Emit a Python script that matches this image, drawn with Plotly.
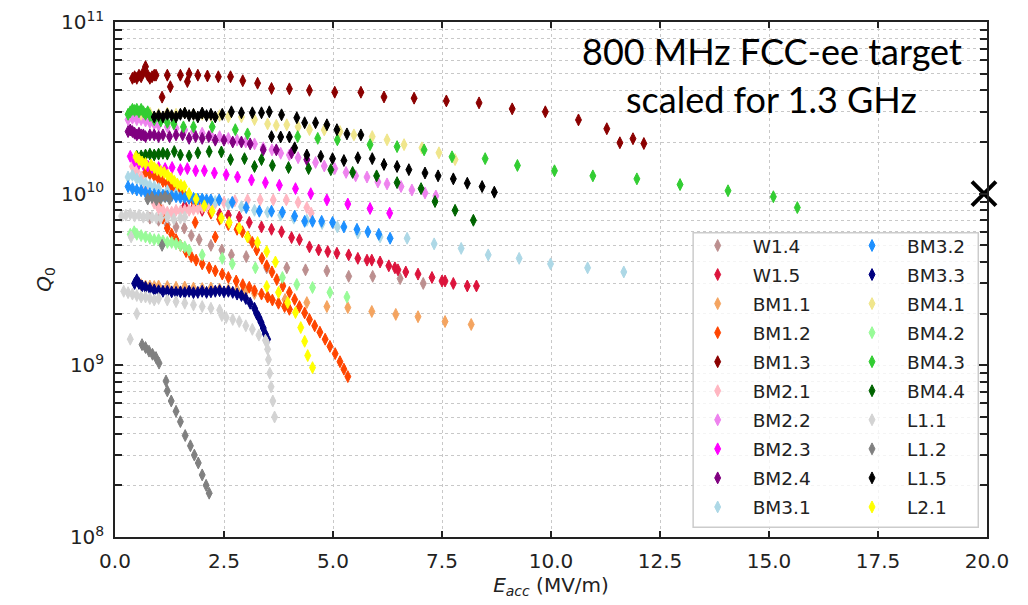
import plotly.graph_objects as go

# cavity names, one per series, in legend order
names = ['W1.4', 'W1.5', 'BM1.1', 'BM1.2', 'BM1.3', 'BM2.1', 'BM2.2', 'BM2.3', 'BM2.4', 'BM3.1',
         'BM3.2', 'BM3.3', 'BM4.1', 'BM4.2', 'BM4.3', 'BM4.4', 'L1.1', 'L1.2', 'L1.5', 'L2.1']
colors = ['#BC8F8F', '#DC143C', '#F4A460', '#FF4500', '#8B0000', '#FFB6C1', '#EE82EE', '#FF00FF', '#800080', '#ADD8E6',
          '#1E90FF', '#000080', '#F0E68C', '#98FB98', '#32CD32', '#006400', '#D3D3D3', '#808080', '#000000', '#FFFF00']

# Eacc (MV/m) and Q0
w14_e = [0.8, 1.0, 1.2, 1.4, 1.59, 1.75, 1.93, 2.2, 2.45, 2.67, 3.01, 3.48, 3.94, 4.37, 4.86, 5.36, 5.91, 6.54, 7.07]
w14_q = [0.72e10, 0.7e10, 0.66e10, 0.64e10, 0.63e10, 0.57e10, 0.54e10, 0.5e10, 0.47e10, 0.44e10, 0.43e10, 0.37e10,
         0.37e10, 0.36e10, 0.355e10, 0.33e10, 0.33e10, 0.32e10, 0.30e10]

w15_e = [1.6, 1.8, 2.0, 2.2, 2.4, 2.6, 2.85, 3.08, 3.36, 3.59, 3.82, 4.05, 4.23, 4.46, 4.67, 4.88, 5.09, 5.36, 5.57,
         5.78, 5.89, 6.08, 6.28, 6.42, 6.49, 6.67, 6.95, 7.27, 7.5, 7.57, 7.76, 8.08, 8.29]
w15_q = [0.85e10, 0.83e10, 0.8e10, 0.78e10, 0.76e10, 0.75e10, 0.73e10, 0.68e10, 0.64e10, 0.62e10, 0.60e10, 0.555e10,
         0.54e10, 0.49e10, 0.47e10, 0.46e10, 0.45e10, 0.44e10, 0.42e10, 0.41e10, 0.41e10, 0.40e10, 0.38e10, 0.37e10,
         0.36e10, 0.35e10, 0.34e10, 0.325e10, 0.31e10, 0.31e10, 0.30e10, 0.29e10, 0.29e10]

bm11_e = [0.6, 0.7, 0.8, 0.9, 1.0, 1.2, 1.4, 1.6, 1.8, 2.0, 2.2, 2.4, 2.6, 2.8, 3.0, 3.2, 3.5, 3.9, 4.4, 4.86, 5.34,
          5.89, 6.44, 6.95, 7.57, 8.17]
bm11_q = [2.95e9, 2.9e9, 2.9e9, 2.88e9, 2.9e9, 2.88e9, 2.85e9, 2.86e9, 2.82e9, 2.8e9, 2.82e9, 2.78e9, 2.76e9, 2.75e9,
          2.72e9, 2.62e9, 2.5e9, 2.42e9, 2.32e9, 2.2e9, 2.17e9, 2.06e9, 1.98e9, 1.92e9, 1.8e9, 1.73e9]

bm12_e = [0.7, 0.8, 0.9, 1.0, 1.1, 1.2, 1.3, 1.4, 1.5, 1.6, 1.7, 1.8, 1.9, 2.0, 2.2, 2.4, 2.6, 2.8, 2.92, 3.05, 3.15,
          3.25, 3.37, 3.48, 3.6, 3.71, 3.85, 4.0, 4.12, 4.23, 4.35, 4.46, 4.58, 4.70, 4.82, 4.93, 5.05, 5.16, 5.25, 5.34,
          0.9, 1.0, 1.1, 1.2, 1.3, 1.4, 1.5, 1.63, 1.75, 1.86, 2.0, 2.16, 2.3, 2.46, 2.6, 2.78, 2.93, 3.08, 3.2, 3.36,
          3.5, 3.61, 3.75, 3.89, 4.0, 1.84, 2.3]
bm12_q = [1.33e10, 1.3e10, 1.27e10, 1.22e10, 1.18e10, 1.14e10, 1.1e10, 1.06e10, 1.02e10, 0.98e10, 0.94e10, 0.9e10,
          0.86e10, 0.83e10, 0.77e10, 0.71e10, 0.66e10, 0.62e10, 0.6e10, 0.56e10, 0.52e10, 0.47e10, 0.42e10, 0.38e10,
          0.35e10, 3.16e9, 2.9e9, 2.66e9, 2.42e9, 2.2e9, 2.02e9, 1.85e9, 1.7e9, 1.56e9, 1.42e9, 1.29e9, 1.17e9, 1.05e9,
          0.95e9, 0.86e9,
          0.95e10, 0.85e10, 0.72e10, 0.63e10, 0.58e10, 0.54e10, 0.5e10, 0.46e10, 0.43e10, 0.41e10, 0.39e10, 0.37e10,
          0.355e10, 0.34e10, 0.325e10, 0.31e10, 0.295e10, 2.85e9, 2.72e9, 2.6e9, 2.5e9, 2.4e9, 2.3e9, 2.2e9, 2.12e9,
          0.68e10, 0.56e10]

bm13_e = [0.40, 0.45, 0.50, 0.55, 0.60, 0.65, 0.70, 0.75, 0.80, 0.85, 0.90, 0.94, 1.08, 1.2, 1.27, 1.5, 1.66, 1.7, 1.9,
          2.12, 2.37, 2.65, 2.93, 3.27, 3.59, 4.0, 4.46, 5.04, 5.64, 6.17, 6.86, 7.6, 8.35, 9.11, 9.87, 10.63, 11.28,
          11.58, 11.88, 12.13]
bm13_q = [4.7e10, 4.8e10, 4.7e10, 4.9e10, 4.8e10, 5.1e10, 5.5e10, 4.9e10, 4.7e10, 4.8e10, 4.9e10, 4.9e10, 3.65e10,
          4.9e10, 4.2e10, 4.9e10, 4.5e10, 5.0e10, 4.9e10, 4.85e10, 4.8e10, 4.8e10, 4.55e10, 4.4e10, 4.1e10, 4.08e10,
          4.0e10, 3.9e10, 3.9e10, 3.66e10, 3.6e10, 3.47e10, 3.38e10, 3.12e10, 3.0e10, 2.69e10, 2.39e10, 1.98e10,
          2.09e10, 1.96e10]

bm21_e = [0.4, 0.5, 0.6, 0.7, 0.8, 0.9, 1.0, 1.1, 1.2, 1.3, 1.4, 1.5, 1.6, 1.7, 1.8, 1.9, 2.0, 2.1, 2.2, 2.3, 2.5, 2.75,
          3.04, 3.33, 3.63, 3.93, 4.2, 4.4, 4.5]
bm21_q = [1.44e10, 1.35e10, 1.25e10, 1.1e10, 0.98e10, 0.88e10, 0.82e10, 0.8e10, 0.78e10, 0.78e10, 0.8e10, 0.79e10,
          0.8e10, 0.8e10, 0.81e10, 0.82e10, 0.83e10, 0.85e10, 0.86e10, 0.88e10, 0.89e10, 0.91e10, 0.92e10, 0.92e10,
          0.92e10, 0.92e10, 0.89e10, 0.83e10, 0.77e10]

bm22_e = [0.3, 0.4, 0.5, 0.6, 0.7, 0.8, 0.9, 1.0, 1.2, 1.4, 1.6, 1.8, 2.0, 2.2, 2.4, 2.6, 2.8, 3.0, 3.2, 3.4, 3.6, 3.8,
          4.0, 4.2, 4.4, 4.6, 4.8, 5.04, 5.3, 5.52, 5.78, 6.03, 6.24, 6.56, 6.81, 7.11, 7.36]
bm22_q = [2.7e10, 2.75e10, 2.7e10, 2.7e10, 2.65e10, 2.6e10, 2.55e10, 2.5e10, 2.45e10, 2.4e10, 2.35e10, 2.3e10, 2.25e10,
          2.2e10, 2.15e10, 2.1e10, 2.05e10, 2.0e10, 1.95e10, 1.85e10, 1.8e10, 1.72e10, 1.68e10, 1.62e10, 1.58e10,
          1.52e10, 1.45e10, 1.4e10, 1.33e10, 1.27e10, 1.25e10, 1.17e10, 1.14e10, 1.10e10, 1.05e10, 1.01e10, 0.97e10]

bm23_e = [0.35, 0.45, 0.55, 0.65, 0.75, 0.85, 1.0, 1.15, 1.31, 1.5, 1.66, 1.85, 2.05, 2.28, 2.55, 2.81, 3.13, 3.45,
          3.77, 4.14, 4.49, 4.86, 5.34, 5.85, 6.3]
bm23_q = [1.65e10, 1.55e10, 1.5e10, 1.48e10, 1.45e10, 1.42e10, 1.42e10, 1.4e10, 1.42e10, 1.38e10, 1.4e10, 1.36e10,
          1.36e10, 1.32e10, 1.29e10, 1.25e10, 1.2e10, 1.16e10, 1.12e10, 1.07e10, 1.0e10, 0.92e10, 0.87e10, 0.82e10,
          0.77e10]

bm24_e = [0.3, 0.35, 0.4, 0.45, 0.5, 0.55, 0.6, 0.65, 0.7, 0.8, 0.9, 1.0, 1.1, 1.25, 1.4, 1.55, 1.7, 1.85, 2.0, 2.15,
          2.3, 2.5, 2.7, 2.9, 3.1, 3.4, 3.7, 4.05, 4.4]
bm24_q = [2.3e10, 2.35e10, 2.3e10, 2.25e10, 2.2e10, 2.25e10, 2.2e10, 2.2e10, 2.15e10, 2.2e10, 2.2e10, 2.15e10, 2.2e10,
          2.15e10, 2.2e10, 2.2e10, 2.1e10, 2.15e10, 2.1e10, 2.15e10, 2.05e10, 2.05e10, 2.0e10, 2.0e10, 1.95e10, 1.8e10,
          1.8e10, 1.73e10, 1.58e10]

bm31_e = [0.3, 0.4, 0.5, 0.6, 0.7, 0.8, 0.9, 1.0, 1.2, 1.4, 1.7, 2.0, 2.3, 2.6, 2.9, 3.2, 3.5, 3.8, 4.1, 4.4, 4.75, 5.1,
          5.57, 6.08, 6.7, 7.32, 7.94, 8.56, 9.27, 9.99, 10.84, 11.67]
bm31_q = [1.25e10, 1.28e10, 1.22e10, 1.18e10, 1.15e10, 1.12e10, 1.1e10, 1.07e10, 1.04e10, 1.0e10, 0.96e10, 0.93e10,
          0.9e10, 0.87e10, 0.84e10, 0.8e10, 0.78e10, 0.75e10, 0.72e10, 0.7e10, 0.67e10, 0.64e10, 0.59e10, 0.56e10,
          0.55e10, 0.51e10, 0.48e10, 0.44e10, 0.42e10, 0.39e10, 0.37e10, 0.35e10]

bm32_e = [0.3, 0.4, 0.5, 0.6, 0.7, 0.8, 0.9, 1.0, 1.1, 1.2, 1.3, 1.4, 1.5, 1.6, 1.7, 1.8, 1.9, 2.0, 2.1, 2.2, 2.39,
          2.69, 3.01, 3.31, 3.59, 3.84, 4.12, 4.35, 4.53, 4.74, 4.99, 5.25, 5.55, 5.8, 6.05, 6.31]
bm32_q = [1.1e10, 1.07e10, 1.05e10, 1.04e10, 1.02e10, 1.0e10, 0.99e10, 0.98e10, 0.98e10, 0.97e10, 0.97e10, 0.96e10,
          0.95e10, 0.95e10, 0.94e10, 0.94e10, 0.93e10, 0.93e10, 0.92e10, 0.92e10, 0.92e10, 0.89e10, 0.83e10, 0.79e10,
          0.79e10, 0.78e10, 0.74e10, 0.69e10, 0.69e10, 0.69e10, 0.68e10, 0.64e10, 0.62e10, 0.60e10, 0.58e10, 0.55e10]

bm33_e = [0.45, 0.5, 0.55, 0.62, 0.7, 0.8, 0.9, 1.0, 1.1, 1.2, 1.3, 1.4, 1.5, 1.6, 1.7, 1.8, 1.9, 2.0, 2.1, 2.2, 2.3,
          2.4, 2.5, 2.6, 2.7, 2.8, 2.9, 3.0, 3.1, 3.2, 3.25, 3.3, 3.35, 3.4, 3.45, 3.5]
bm33_q = [3.0e9, 3.15e9, 3.0e9, 2.9e9, 2.85e9, 2.8e9, 2.75e9, 2.72e9, 2.7e9, 2.7e9, 2.68e9, 2.66e9, 2.68e9, 2.65e9,
          2.7e9, 2.65e9, 2.66e9, 2.7e9, 2.66e9, 2.68e9, 2.7e9, 2.72e9, 2.68e9, 2.7e9, 2.66e9, 2.6e9, 2.55e9, 2.45e9,
          2.3e9, 2.15e9, 2.0e9, 1.9e9, 1.78e9, 1.65e9, 1.52e9, 1.42e9]

bm41_e = [0.6, 0.8, 1.0, 1.2, 1.4, 1.6, 1.8, 2.0, 2.2, 2.4, 2.6, 2.9, 3.2, 3.5, 3.7, 3.94, 4.2, 4.46, 4.8, 5.16, 5.48,
          5.9, 6.24, 6.63, 7.04, 7.43, 7.8]
bm41_q = [2.9e10, 2.95e10, 2.9e10, 2.95e10, 2.9e10, 2.95e10, 2.9e10, 2.9e10, 2.85e10, 2.85e10, 2.8e10, 2.8e10, 2.7e10,
          2.55e10, 2.5e10, 2.52e10, 2.45e10, 2.36e10, 2.35e10, 2.3e10, 2.2e10, 2.15e10, 2.06e10, 1.93e10, 1.85e10,
          1.73e10, 1.58e10]

bm42_e = [0.35, 0.44, 0.5, 0.6, 0.7, 0.8, 0.9, 1.0, 1.1, 1.2, 1.3, 1.4, 1.5, 1.6, 1.7, 2.0, 2.46, 2.69, 3.22, 3.84,
          4.17, 4.53, 4.93, 5.32]
bm42_q = [0.58e10, 0.6e10, 0.58e10, 0.57e10, 0.56e10, 0.55e10, 0.54e10, 0.54e10, 0.53e10, 0.52e10, 0.52e10, 0.51e10,
          0.5e10, 0.49e10, 0.47e10, 0.44e10, 0.42e10, 0.39e10, 0.37e10, 0.325e10, 2.96e9, 2.84e9, 2.66e9, 2.5e9]

bm43_e = [0.30, 0.35, 0.40, 0.45, 0.50, 0.55, 0.60, 0.65, 0.70, 0.75, 0.80, 0.9, 1.05, 1.2, 1.35, 1.57, 1.8, 2.23,
          2.76, 3.04, 4.19, 4.65, 5.1, 5.85, 6.47, 7.09, 7.73, 8.49, 9.23, 10.08, 10.96, 11.97, 12.96, 14.06, 15.1,
          15.65]
bm43_q = [2.9e10, 3.0e10, 3.1e10, 3.05e10, 3.1e10, 3.0e10, 3.1e10, 3.0e10, 2.9e10, 3.0e10, 2.85e10, 2.7e10, 2.65e10,
          2.6e10, 2.55e10, 2.45e10, 2.45e10, 2.45e10, 2.36e10, 2.23e10, 2.15e10, 2.1e10, 2.06e10, 1.93e10, 1.88e10,
          1.80e10, 1.64e10, 1.60e10, 1.46e10, 1.36e10, 1.27e10, 1.22e10, 1.13e10, 1.04e10, 0.96e10, 0.83e10]

bm44_e = [0.5, 0.6, 0.7, 0.8, 0.9, 1.0, 1.1, 1.2, 1.36, 1.5, 1.7, 1.9, 2.16, 2.44, 2.65, 2.97, 3.2, 3.36, 3.61, 3.98,
          4.44, 4.95, 5.45, 6.0, 6.47, 7.02, 7.34, 7.8, 8.22]
bm44_q = [1.65e10, 1.66e10, 1.68e10, 1.7e10, 1.68e10, 1.7e10, 1.72e10, 1.7e10, 1.76e10, 1.68e10, 1.66e10, 1.73e10,
          1.76e10, 1.75e10, 1.58e10, 1.6e10, 1.44e10, 1.58e10, 1.46e10, 1.42e10, 1.40e10, 1.38e10, 1.33e10, 1.27e10,
          1.16e10, 1.07e10, 0.90e10, 0.80e10, 0.70e10]

l11_e = [0.15, 0.25, 0.35, 0.45, 0.55, 0.65, 0.75, 0.85, 0.95, 1.05, 1.2, 1.35, 1.5, 1.6, 0.37,
         0.2, 0.3, 0.4, 0.5, 0.6, 0.7, 0.8, 0.9, 1.0, 1.2, 1.4, 1.6, 1.8, 2.0, 2.2, 2.4, 2.45, 2.55, 2.7, 2.85, 3.0,
         3.15, 3.3, 3.45, 3.48, 3.5, 3.52, 3.55, 3.58, 3.62, 3.66, 0.35, 0.5]
l11_q = [0.74e10, 0.75e10, 0.76e10, 0.74e10, 0.75e10, 0.73e10, 0.74e10, 0.73e10, 0.72e10, 0.72e10, 0.73e10, 0.71e10,
         0.72e10, 0.73e10, 0.56e10,
         2.7e9, 2.65e9, 2.6e9, 2.55e9, 2.5e9, 2.5e9, 2.45e9, 2.4e9, 2.45e9, 2.4e9, 2.35e9, 2.3e9, 2.25e9, 2.2e9, 2.15e9,
         2.1e9, 1.95e9, 1.9e9, 1.85e9, 1.8e9, 1.7e9, 1.62e9, 1.5e9, 1.4e9, 1.36e9, 1.24e9, 1.08e9, 0.9e9, 0.75e9,
         0.62e9, 0.5e9, 1.42e9, 2.0e9]

l12_e = [0.75, 0.85, 0.95, 1.05, 1.15, 1.25, 1.08, 0.62, 0.70, 0.78, 0.86, 0.94, 1.01, 1.17, 1.20, 1.29, 1.40, 1.50,
         1.61, 1.73, 1.82, 1.91, 2.0, 2.09, 2.16]
l12_q = [0.93e10, 0.95e10, 0.92e10, 0.94e10, 0.96e10, 0.93e10, 0.5e10, 1.32e9, 1.27e9, 1.21e9, 1.16e9, 1.11e9, 1.03e9,
         0.81e9, 0.71e9, 0.62e9, 0.54e9, 0.47e9, 0.39e9, 0.34e9, 0.30e9, 0.27e9, 0.23e9, 0.20e9, 0.18e9]

l15_e = [0.9, 1.0, 1.1, 1.2, 1.3, 1.4, 1.5, 1.6, 1.7, 1.8, 1.9, 2.0, 2.1, 2.2, 2.3, 2.46, 2.67, 2.9, 3.15, 3.36, 3.54,
         3.82, 4.17, 4.35, 4.6, 4.86, 5.09, 5.32, 5.64, 3.59, 3.8, 4.0, 4.12, 4.4, 4.72, 4.99, 5.25, 5.57, 5.9, 6.17,
         6.47, 6.74, 7.11, 7.41, 7.76, 8.08, 8.42, 8.70]
l15_q = [2.8e10, 2.85e10, 2.8e10, 2.9e10, 2.85e10, 2.8e10, 2.9e10, 2.95e10, 2.85e10, 2.9e10, 2.8e10, 2.95e10, 2.85e10,
         2.9e10, 2.8e10, 2.9e10, 3.0e10, 2.96e10, 2.96e10, 2.96e10, 3.0e10, 2.88e10, 2.77e10, 2.59e10, 2.59e10,
         2.52e10, 2.36e10, 2.23e10, 2.2e10, 2.15e10, 2.14e10, 2.14e10, 1.85e10, 1.68e10, 1.65e10, 1.6e10, 1.56e10,
         1.62e10, 1.6e10, 1.48e10, 1.44e10, 1.38e10, 1.32e10, 1.27e10, 1.22e10, 1.15e10, 1.10e10, 1.02e10]

l21_e = [0.48, 0.55, 0.62, 0.7, 0.83, 0.9, 0.97, 1.05, 1.13, 1.21, 1.29, 1.36, 1.43, 1.51, 1.59, 1.7, 1.86, 2.05, 2.23,
         2.44, 2.62, 2.85, 3.04, 3.27, 3.48, 3.68, 3.48, 3.75, 3.96, 4.14, 4.26, 4.35, 4.42, 4.53]
l21_q = [1.64e10, 1.58e10, 1.53e10, 1.5e10, 1.47e10, 1.42e10, 1.38e10, 1.35e10, 1.33e10, 1.28e10, 1.23e10, 1.18e10,
         1.14e10, 1.12e10, 1.1e10, 1.0e10, 0.93e10, 0.85e10, 0.79e10, 0.72e10, 0.68e10, 0.63e10, 0.56e10, 0.52e10,
         0.46e10, 0.40e10, 2.88e9, 2.66e9, 2.32e9, 2.03e9, 1.66e9, 1.38e9, 1.14e9, 0.97e9]

eacc = [w14_e, w15_e, bm11_e, bm12_e, bm13_e, bm21_e, bm22_e, bm23_e, bm24_e, bm31_e,
        bm32_e, bm33_e, bm41_e, bm42_e, bm43_e, bm44_e, l11_e, l12_e, l15_e, l21_e]
q0 = [w14_q, w15_q, bm11_q, bm12_q, bm13_q, bm21_q, bm22_q, bm23_q, bm24_q, bm31_q,
      bm32_q, bm33_q, bm41_q, bm42_q, bm43_q, bm44_q, l11_q, l12_q, l15_q, l21_q]

# FCC-ee target point
target_e = [19.93]
target_q = [1.0e10]

x_ticks = [0, 2.5, 5, 7.5, 10, 12.5, 15, 17.5, 20]
y_ticks = [1e8, 1e9, 1e10, 1e11]
y_ticktext = ['10<sup>8</sup>', '10<sup>9</sup>', '10<sup>10</sup>', '10<sup>11</sup>']
y_minor = [m * 10 ** d for d in (8, 9, 10) for m in range(2, 10)]

fig = go.Figure()
for i, name in enumerate(names):
    fig.add_trace(go.Scatter(
        x=eacc[i], y=q0[i], mode='markers', name=name,
        marker=dict(symbol='diamond-tall', size=8.5, color=colors[i], line=dict(width=1, color=colors[i])),
        legend='legend' if i < 10 else 'legend2',
        legendgroup=name,
    ))

fig.add_trace(go.Scatter(
    x=target_e, y=target_q, mode='markers', showlegend=False, cliponaxis=False,
    marker=dict(symbol='x-thin', size=24, color='black', line=dict(width=4, color='black')),
))

axis_common = dict(
    showline=True, linecolor='#222', linewidth=1.5, mirror='allticks',
    ticks='inside', tickcolor='#222', tickwidth=1.5,
    showgrid=True, gridcolor='#c8c8c8', griddash='dot', gridwidth=1,
    zeroline=False, tickfont=dict(family='DejaVu Sans', size=20, color='#222'),
    ticklabeloverflow='allow', automargin=False,
)

fig.update_xaxes(
    range=[0, 20], tickvals=x_ticks, ticktext=['%.1f' % v for v in x_ticks], ticklen=6,
    ticklabelstandoff=5,
    title=dict(text='<i>E<sub>acc</sub></i> (MV/m)', font=dict(family='DejaVu Sans', size=20, color='#222'),
               standoff=2),
    **axis_common,
)
fig.update_yaxes(
    type='log', range=[8, 11.0001], tickvals=y_ticks, ticktext=y_ticktext, ticklen=8,
    ticklabelstandoff=5,
    minor=dict(tickmode='array', tickvals=y_minor, ticks='inside', ticklen=7, tickcolor='#222', tickwidth=1.5,
               showgrid=True, gridcolor='#c8c8c8', griddash='dot', gridwidth=1),
    title=dict(text='<i>Q</i><sub>0</sub>', font=dict(family='DejaVu Sans', size=20, color='#222'), standoff=4),
    **axis_common,
)

# the page body adds 8px on the top and left, so the figure is 8px smaller
legend_font = dict(family='DejaVu Sans', size=18.5, color='#222')
fig.update_layout(
    width=1020, height=597,
    margin=dict(l=107, r=41, t=14, b=68),
    plot_bgcolor='white', paper_bgcolor='white',
    legend=dict(x=0.651, y=0.602, xanchor='left', yanchor='top', bgcolor='rgba(0,0,0,0)',
                font=legend_font, itemwidth=60, tracegroupgap=2),
    legend2=dict(x=0.828, y=0.602, xanchor='left', yanchor='top', bgcolor='rgba(0,0,0,0)',
                 font=legend_font, itemwidth=60, tracegroupgap=2),
    shapes=[dict(type='rect', xref='paper', yref='paper', x0=0.663, x1=0.99, y0=0.019, y1=0.591,
                 line=dict(color='#cccccc', width=1.5), fillcolor='rgba(255,255,255,0.8)', layer='above')],
    annotations=[
        dict(text='800 MHz FCC-ee target', xref='paper', yref='paper', x=0.7534, y=0.943,
             xanchor='center', yanchor='middle', showarrow=False,
             font=dict(family='Lato', size=36, weight=400, color='black')),
        dict(text='scaled for 1.3 GHz', xref='paper', yref='paper', x=0.7534, y=0.850,
             xanchor='center', yanchor='middle', showarrow=False,
             font=dict(family='Lato', size=36, weight=400, color='black')),
    ],
)

fig.write_html('out.html')
